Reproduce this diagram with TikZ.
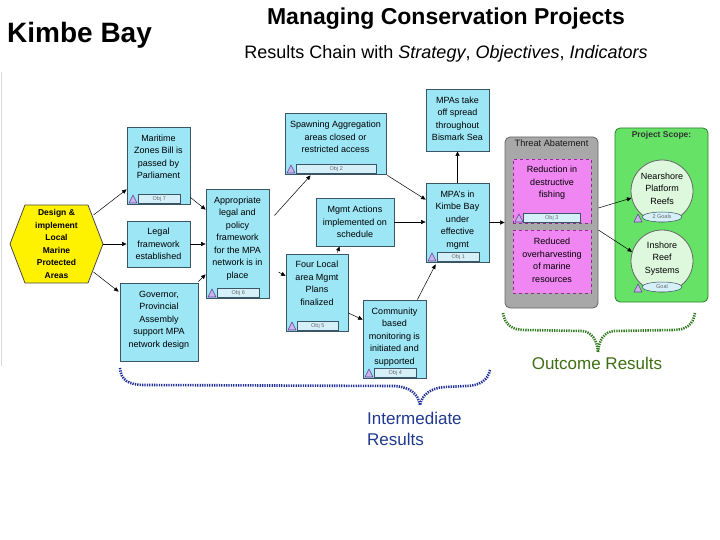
\documentclass[tikz,border=0pt]{standalone}
\usepackage{fontspec}
\setmainfont{Liberation Sans}
\usetikzlibrary{arrows.meta,shapes.geometric,calc}
\definecolor{boxfill}{HTML}{9CE6F6}
\definecolor{boxline}{HTML}{3A5566}
\definecolor{objfill}{HTML}{D6F0FA}
\definecolor{iconline}{HTML}{6A3D9A}
\definecolor{iconfill}{HTML}{C9B6E8}
\definecolor{hexfill}{HTML}{FFF200}
\definecolor{grayfill}{HTML}{A8A8A8}
\definecolor{magfill}{HTML}{EF86F2}
\definecolor{magline}{HTML}{8E2E8E}
\definecolor{greenfill}{HTML}{66E366}
\definecolor{greenline}{HTML}{2E7D2E}
\definecolor{circfill}{HTML}{DDF8DD}
\definecolor{bluebrace}{HTML}{1F2F9A}
\definecolor{bluetext}{HTML}{1F3A8F}
\definecolor{greenbrace}{HTML}{2F7A1E}
\definecolor{greentext}{HTML}{3F6E14}
\tikzset{
  cbox/.style={draw=boxline, fill=boxfill, line width=0.8pt, inner sep=0pt, rectangle},
  mbox/.style={draw=magline, fill=magfill, line width=0.8pt, dashed, inner sep=0pt, rectangle},
  txt/.style={font=\fontsize{9}{12.5}\selectfont, align=center, inner sep=0pt},
  objbar/.style={draw=boxline, fill=objfill, line width=0.5pt, inner sep=0pt, minimum height=9pt,
    font=\fontsize{5.5}{6}\selectfont, text=black!60},
  icon/.style={draw=iconline, fill=iconfill, line width=0.6pt, line join=round},
  conn/.style={-{Triangle[length=4.5pt,width=4pt]}, line width=0.5pt, black},
  panel/.style={rounded corners=5pt, line width=0.8pt, inner sep=0pt},
  brace/.style={line width=2.6pt, dash pattern=on 1.3pt off 1.1pt},
  glabel/.style={ellipse, draw=boxline, fill=objfill, line width=0.5pt, inner sep=0pt,
    minimum width=40pt, minimum height=10pt, font=\fontsize{5.5}{6}\selectfont, text=black!60}
}
% #1 name, #2 x1, #3 y1, #4 x2, #5 y2, #6 text centre y, #7 text, #8 obj label
\newcommand\ObjBox[8]{%
  \node[cbox, minimum width={#4-#2}, minimum height={#5-#3}] (#1) at ({(#2+#4)/2},{(#3+#5)/2}) {};
  \node[txt] (#1t) at ({(#2+#4)/2},#6) {#7};
  \node[objbar, minimum width={#4-#2-21}, anchor=south west] (#1o) at (#2+11,#5-0.4) {#8};
  \draw[icon] (#2+2,#5-1) -- (#2+10,#5-1) -- (#2+6,#5-9) -- cycle;
}
\newcommand\PlainBox[7]{%
  \node[cbox, minimum width={#4-#2}, minimum height={#5-#3}] (#1) at ({(#2+#4)/2},{(#3+#5)/2}) {};
  \node[txt] (#1t) at ({(#2+#4)/2},#6) {#7};
}
\begin{document}
\begin{tikzpicture}[x=1pt,y=-1pt]
\useasboundingbox (0,0) rectangle (720,540);
\fill[white] (0,0) rectangle (720,540);
\draw[black!15, line width=1pt] (1,72) -- (1,366);

% titles
\node[anchor=west, inner sep=0pt, font=\bfseries\fontsize{28}{30}\selectfont] (kimbe) at (7,35) {Kimbe Bay};
\node[inner sep=0pt, font=\bfseries\fontsize{23}{26}\selectfont] (title) at (446,19) {Managing Conservation Projects};
\node[inner sep=0pt, font=\fontsize{18}{20}\selectfont] (subtitle) at (446,54) {Results Chain with \textit{Strategy}, \textit{Objectives}, \textit{Indicators}};

% panels
\node[panel, draw=black!60, fill=grayfill, minimum width=93pt, minimum height=171pt] (threat) at (551.5,222.5) {};
\node[txt, font=\fontsize{9.2}{10}\selectfont, text=black!90] (threatT) at (551.5,143.5) {Threat Abatement};
\node[panel, draw=greenline, fill=greenfill, minimum width=93pt, minimum height=174pt] (scope) at (661.5,215) {};
\node[txt, font=\bfseries\fontsize{8.5}{10}\selectfont, text=black!80] (scopeT) at (661.5,135) {Project Scope:};

% hexagon strategy
\draw[fill=hexfill, draw=black!70, line width=0.8pt, line join=round]
  (10,244) -- (25,205) -- (88,205) -- (103,244) -- (88,283) -- (25,283) -- cycle;
\node[txt, font=\bfseries\fontsize{8.5}{12.5}\selectfont, minimum width=93pt, minimum height=78pt] (hex) at (56.5,244)
  {Design \&\\implement\\Local\\Marine\\Protected\\Areas};

% result boxes
\ObjBox{mar}{127}{127}{190}{204}{157}{Maritime\\Zones Bill is\\passed by\\Parliament}{Obj 7}
\PlainBox{legal}{127}{221}{190}{267}{244}{Legal\\framework\\established}
\PlainBox{gov}{120}{283}{198}{361}{320}{Governor,\\Provincial\\Assembly\\support MPA\\network design}
\ObjBox{app}{206}{189}{269}{298}{238.5}{Appropriate\\legal and\\policy\\framework\\for the MPA\\network is in\\place}{Obj 6}
\ObjBox{spw}{285}{113}{386}{174}{137}{Spawning Aggregation\\areas closed or\\restricted access}{Obj 2}
\PlainBox{mgmt}{316}{198}{394}{246}{222}{Mgmt Actions\\implemented on\\schedule}
\ObjBox{four}{286}{254}{348}{331}{283.5}{Four Local\\area Mgmt\\Plans\\finalized}{Obj 5}
\ObjBox{comm}{363}{300}{426}{378}{337}{Community\\based\\monitoring is\\initiated and\\supported}{Obj 4}
\PlainBox{mpas}{426}{89}{489}{151}{119}{MPAs take\\off spread\\throughout\\Bismark Sea}
\ObjBox{kimbeb}{426}{183}{489}{262}{220}{MPA's in\\Kimbe Bay\\under\\effective\\mgmt}{Obj 1}

% threat boxes
\node[mbox, minimum width=78pt, minimum height=64pt] (red) at (552,191) {};
\node[txt] (redt) at (552,183) {Reduction in\\destructive\\fishing};
\node[objbar, minimum width=57pt, anchor=south west] (redo) at (523,222.6) {Obj 3};
\draw[icon] (515,222) -- (523,222) -- (519,214) -- cycle;
\node[mbox, minimum width=78pt, minimum height=63pt] (over) at (552,261.5) {};
\node[txt] (overt) at (552,260.5) {Reduced\\overharvesting\\of marine\\resources};

% targets
\node[circle, draw=black!60, fill=circfill, line width=0.8pt, minimum size=62pt, inner sep=0pt] (near) at (662,191) {};
\node[txt] (neart) at (662,188.5) {Nearshore\\Platform\\Reefs};
\node[glabel] (nearg) at (662,217) {2 Goals};
\draw[icon] (634,222) -- (642,222) -- (638,214) -- cycle;
\node[circle, draw=black!60, fill=circfill, line width=0.8pt, minimum size=62pt, inner sep=0pt] (insh) at (662,261) {};
\node[txt] (insht) at (662,258.5) {Inshore\\Reef\\Systems};
\node[glabel] (inshg) at (662,287) {Goal};
\draw[icon] (634,292) -- (642,292) -- (638,284) -- cycle;

% connectors
\draw[conn] ($(hex)+(37,-29)$) -- ($(mar.south west)+(0,-15)$);
\draw[conn] (hex.east) -- (legal.west);
\draw[conn] ($(hex)+(37,28)$) -- ($(gov.north west)+(-1,9)$);
\draw[conn] ($(mar.south east)+(0,-7)$) -- ($(app.north west)+(0,21)$);
\draw[conn] (legal.east) -- (app.west |- legal.east);
\draw[conn] ($(gov.north east)+(0,-1)$) -- ($(app.south west)+(0,-24)$);
\draw[conn] ($(app.east)+(5,-28)$) -- ($(spw.south west)+(26,1)$);
\draw[conn] ($(app.east)+(9,28.5)$) -- ($(four.west)+(0,-16.5)$);
\draw[conn] ($(four.north east)+(-11,-1)$) -- ($(mgmt.south west)+(24,0)$);
\draw[conn] ($(four.east)+(0,20.5)$) -- ($(comm.north west)+(0,20)$);
\draw[conn] ($(spw.south east)+(1,1)$) -- ($(kimbeb.north west)+(0,17)$);
\draw[conn] (mgmt.east) -- (kimbeb.west |- mgmt.east);
\draw[conn] ($(comm.north east)+(-9,0)$) -- ($(kimbeb.south west)+(10,2)$);
\draw[conn] (kimbeb.north) -- (mpas.south);
\draw[conn] (kimbeb.east) -- (threat.west |- kimbeb.east);
\draw[conn] ($(threat.east)+(0,-14.5)$) -- (near.193);
\draw[conn] ($(threat.east)+(0,7.5)$) -- (insh.163);

% braces
\draw[brace, draw=bluebrace]
  (120,368) .. controls (121,380) and (128,385) .. (145,385) -- (395,386)
  .. controls (410,387) and (418,394) .. (420,405);
\draw[brace, draw=bluebrace]
  (490,370) .. controls (488,380) and (480,386) .. (465,386) -- (445,387)
  .. controls (430,388) and (422,395) .. (420,405);
\draw[brace, draw=greenbrace]
  (503,313) .. controls (505,325) and (512,330) .. (525,330) -- (582,331)
  .. controls (592,332) and (597,340) .. (598,352);
\draw[brace, draw=greenbrace]
  (695,313) .. controls (693,325) and (686,330) .. (673,330) -- (614,331)
  .. controls (604,332) and (599,340) .. (598,352);

\node[inner sep=0pt, font=\fontsize{17}{20}\selectfont, text=greentext] (outc) at (597,363) {Outcome Results};
\node[anchor=north west, inner sep=0pt, align=left, font=\fontsize{17}{21}\selectfont, text=bluetext] (inter) at (367,412) {Intermediate\\Results};
\end{tikzpicture}
\end{document}
